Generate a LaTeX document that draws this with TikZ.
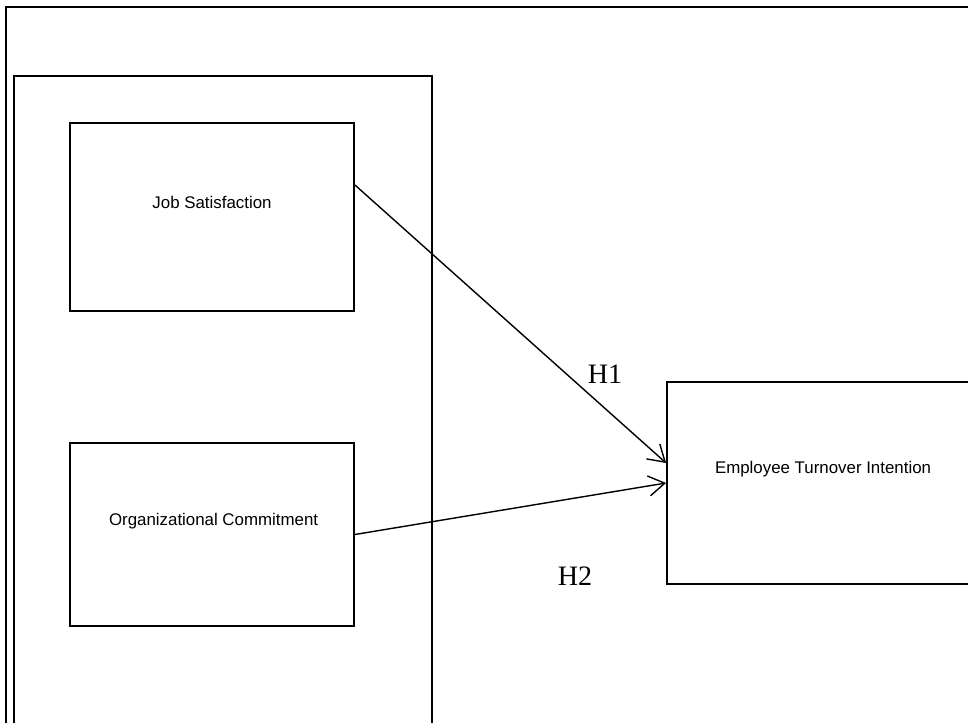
\documentclass[tikz,border=0pt]{standalone}
\usepackage{fontspec}
\setmainfont{Liberation Serif}
\setsansfont{Liberation Sans}
\usepackage{tikz}
\usetikzlibrary{arrows.meta,positioning}

\begin{document}
\begin{tikzpicture}[
  x=0.25mm, y=-0.25mm,
  frame/.style={draw, line width=1.3pt},
  var/.style={draw, line width=1.3pt, inner sep=0pt, minimum width=71mm, minimum height=47mm},
  lbl/.style={font=\sffamily\fontsize{12}{14}\selectfont},
  hyp/.style={font=\rmfamily\fontsize{20}{24}\selectfont},
  arr/.style={-{Straight Barb[length=4mm, width=5mm, line width=1pt]}, line width=1pt}
]
\useasboundingbox (0,0) rectangle (968,723);
\clip (0,0) rectangle (968,723);

% frames
\draw[frame] (6,7) rectangle (990,740);
\draw[frame] (14,76) rectangle (432,740);

% variables
\node[var] (js) at (212,217) {};
\node[var, minimum height=45.75mm] (oc) at (212,534.5) {};
\node[var, minimum width=80mm, minimum height=50.5mm] (eti) at (827,483) {};

\node[lbl] (jst) at ([yshift=3.75mm]js.center) {Job Satisfaction};
\node[lbl] (oct) at ([xshift=0.4mm, yshift=3.4mm]oc.center) {Organizational Commitment};
\node[lbl, anchor=west] (etit) at ([xshift=11mm, yshift=3.5mm]eti.west) {Employee Turnover Intention};

% hypotheses
\draw[arr] ([yshift=8mm]js.east) -- ([yshift=5mm]eti.west);
\draw[arr] (oc.east) -- (eti.west);

\node[hyp] (h1) at (605,374) {H1};
\node[hyp] (h2) at (575,576) {H2};
\end{tikzpicture}
\end{document}
